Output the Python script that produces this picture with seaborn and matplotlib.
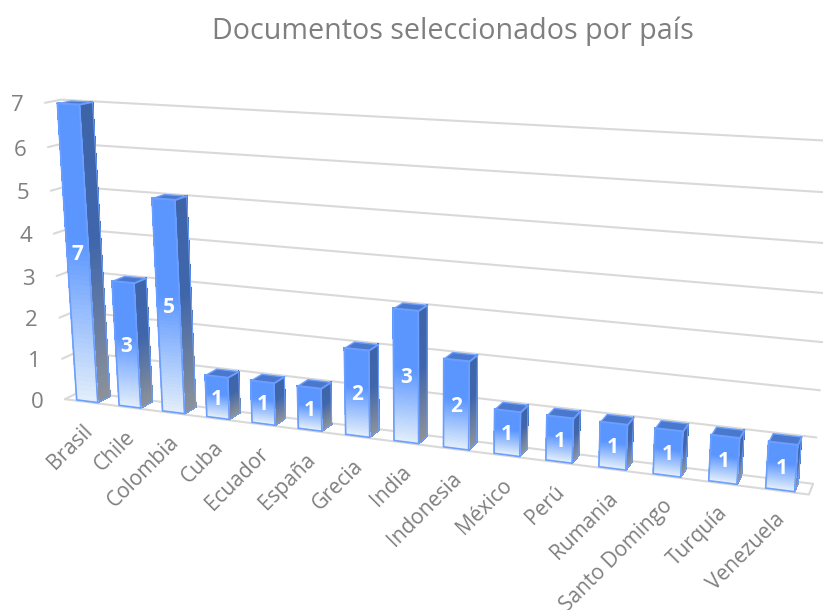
import numpy as np
import pandas as pd
import seaborn as sns
import matplotlib.pyplot as plt
from matplotlib.collections import PolyCollection
from matplotlib.colors import to_rgb
from matplotlib.transforms import Transform

paises = ["Brasil", "Chile", "Colombia", "Cuba", "Ecuador", "España", "Grecia", "India",
          "Indonesia", "México", "Perú", "Rumania", "Santo Domingo", "Turquía", "Venezuela"]
documentos = [7, 3, 5, 1, 1, 1, 2, 3, 2, 1, 1, 1, 1, 1, 1]
valores_eje = [0, 1, 2, 3, 4, 5, 6, 7]

# perspective camera: (category, value, depth) -> picture pixels
CAM = np.array([
    [41.33185, -3.201184, 13.59468, 87.213662],
    [1.20551, -43.272286, -1.208349, 401.252817],
    [-0.010461, -0.007446, 0.013092, 1.0],
])


def proyectar(x, y, z=0.0):
    p = CAM @ np.array([x, y, z, 1.0])
    return p[0] / p[2], p[1] / p[2]


class Camara(Transform):
    input_dims = 2
    output_dims = 2

    def __init__(self, z=0.0):
        super().__init__()
        self.z = z

    def transform_non_affine(self, values):
        values = np.asarray(values, dtype=float)
        pts = [proyectar(x, y, self.z) for x, y in values]
        return np.array(pts).reshape(-1, 2)


sns.set_theme(style="white")
plt.rcParams['font.family'] = ['Open Sans', 'DejaVu Sans']

fig, ax = plt.subplots(figsize=(8.23, 6.10), dpi=100)
ax.set_position([0, 0, 1, 1])

df = pd.DataFrame({"pais": paises, "documentos": documentos})
sns.barplot(data=df, x="pais", y="documentos", width=0.5, color="#5B96FF", ax=ax, zorder=5)
ax.axis("off")
ax.set_xlim(0, 823)
ax.set_ylim(610, 0)
pix = ax.transData  # pixel coordinates of the picture, y pointing down

GRIS = "#7F7F7F"
LINEA = "#D9D9D9"
z_front, z_back = -0.1, 1.1
x_min, x_max = -0.5, 14.5


def gradiente(stops, t):
    pos = [s[0] for s in stops]
    rgb = np.array([to_rgb(s[1]) for s in stops])
    return [np.interp(t, pos, rgb[:, k]) for k in range(3)]


frente = [(0, "#5B96FF"), (0.45, "#5B96FF"), (1, "#E2EEFA")]
lado = [(0, "#3E64A8"), (0.45, "#3F66AB"), (1, "#8C9298")]

# walls and floor
for v in valores_eje:
    ax.plot(*zip(proyectar(x_min, v, z_front), proyectar(x_min, v, z_back), proyectar(x_max, v, z_back)),
            color=LINEA, lw=1.5, zorder=1)
ax.plot(*zip(proyectar(x_min, 0, z_front), proyectar(x_max, 0, z_front), proyectar(x_max, 0, z_back)),
        color=LINEA, lw=1.5, zorder=1)

for v in valores_eje:
    x, y = proyectar(x_min, v, z_front)
    ax.text(x - 28, y + 3, str(v), color=GRIS, fontsize=16, ha="center", va="center")

ax.text(453, 31, "Documentos seleccionados por país", color=GRIS, fontsize=20.6, ha="center", va="center")

for i, barra in enumerate(ax.patches):
    x0 = barra.get_x()
    x1 = x0 + barra.get_width()
    xc = x0 + barra.get_width() / 2
    alto = barra.get_height()
    n = 60
    cortes = np.linspace(alto, 0, n + 1)
    polys_f, cols_f, polys_l, cols_l = [], [], [], []
    for k in range(n):
        t = (k + 0.5) / n
        a, c = cortes[k], cortes[k + 1]
        polys_f.append([proyectar(x0, a), proyectar(x1, a), proyectar(x1, c), proyectar(x0, c)])
        cols_f.append(gradiente(frente, t))
        polys_l.append([proyectar(x1, a), proyectar(x1, a, 1), proyectar(x1, c, 1), proyectar(x1, c)])
        cols_l.append(gradiente(lado, t))
    ax.add_collection(PolyCollection(polys_l, facecolors=cols_l, edgecolors=cols_l, linewidths=0.5,
                                     antialiaseds=False, zorder=3))
    ax.add_collection(PolyCollection(polys_f, facecolors=cols_f, edgecolors=cols_f, linewidths=0.5,
                                     antialiaseds=False, zorder=3))
    tapa = [proyectar(x0, alto), proyectar(x0, alto, 1), proyectar(x1, alto, 1), proyectar(x1, alto)]
    ax.add_collection(PolyCollection([tapa], facecolors="#4A78CC", edgecolors="#6B9EFF", linewidths=1, zorder=4))
    contorno = [proyectar(x1, alto), proyectar(x1, alto, 1), proyectar(x1, 0, 1), proyectar(x1, 0)]
    ax.add_collection(PolyCollection([contorno], facecolors="none", edgecolors="#6B9EFF", linewidths=0.8, zorder=4))
    # the seaborn bar itself is the outline of the front face
    barra.set_facecolor("none")
    barra.set_edgecolor("#6B9EFF")
    barra.set_linewidth(1.2)
    barra.set_transform(Camara(0.0) + pix)
    barra.set_clip_on(False)

    xa, ya = proyectar(xc, alto)
    xb, yb = proyectar(xc, 0)
    ax.text((xa + xb) / 2, (ya + yb) / 2 + 2, str(documentos[i]), color="white", fontsize=15,
            fontweight="bold", ha="center", va="center", zorder=6)
    ax.text(xb + 2, yb + 27, paises[i], color=GRIS, fontsize=15, rotation=45, rotation_mode="anchor",
            ha="right", va="center", zorder=6)

fig.savefig("out.png", dpi=100)
